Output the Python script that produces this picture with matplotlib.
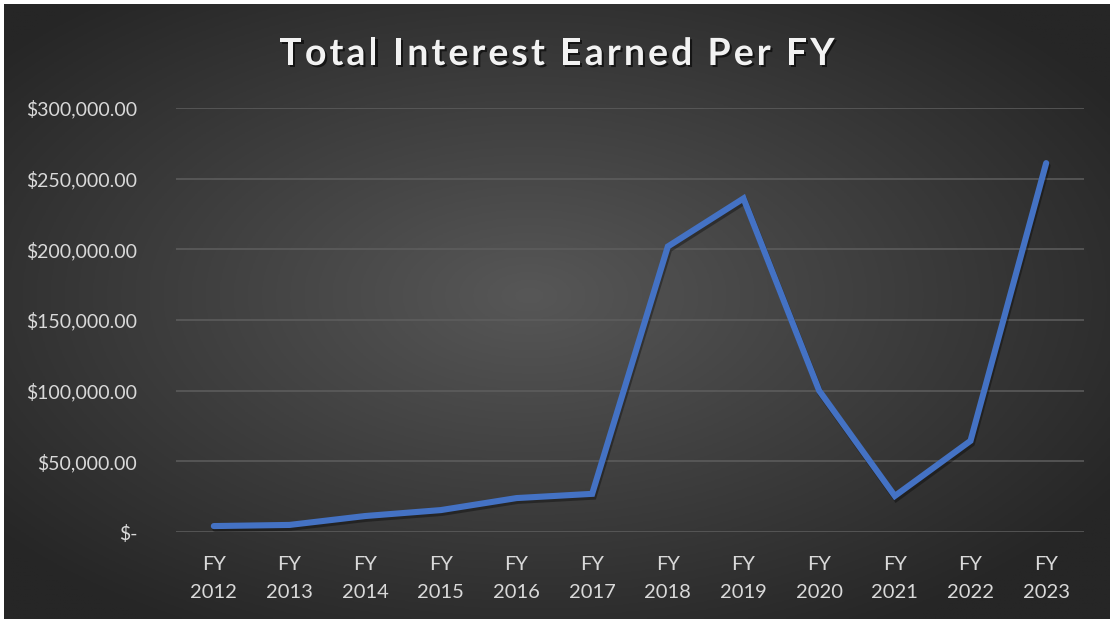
import matplotlib.pyplot as plt
import matplotlib.patheffects as pe
from matplotlib.font_manager import FontProperties
import numpy as np

# chart data
years = ['2012', '2013', '2014', '2015', '2016', '2017',
         '2018', '2019', '2020', '2021', '2022', '2023']
interest = [4200, 5000, 11300, 15500, 24000, 27000,
            202000, 236000, 100000, 25500, 64500, 261000]
y_ticks = [0, 50000, 100000, 150000, 200000, 250000, 300000]
title = 'Total Interest Earned Per FY'

W, H = 1114, 623
fig = plt.figure(figsize=(W / 100, H / 100), dpi=100)
fig.patch.set_facecolor('white')

# radial gradient background
bg = fig.add_axes([0.004, 0.006, 0.992, 0.988])
bg.set_axis_off()
gx, gy = np.meshgrid(np.linspace(-1, 1, 400), np.linspace(-1, 1, 220))
r = np.sqrt((gx + 0.05) ** 2 + (gy - 0.05) ** 2)
r = np.clip(r / 1.25, 0, 1)
shade = 0x57 / 255 * (1 - r) + 0x26 / 255 * r
img = np.dstack([shade, shade, shade])
bg.imshow(img, aspect='auto', extent=[0, 1, 0, 1], origin='lower')
bg.set_xlim(0, 1)
bg.set_ylim(0, 1)

ax = fig.add_axes([176 / W, (H - 532) / H, (1084 - 176) / W, (532 - 108) / H])
ax.patch.set_alpha(0)

x = np.arange(len(years))
ax.plot(x, interest, color='#4472C4', linewidth=4.4, solid_capstyle='round',
        solid_joinstyle='miter', zorder=3,
        path_effects=[pe.SimpleLineShadow(offset=(1, -2), shadow_color='black', alpha=0.35),
                      pe.Normal()])

ax.set_xlim(-0.5, len(years) - 0.5)
ax.set_ylim(0, 300000)
ax.set_yticks(y_ticks)
ax.set_yticklabels(['$-' if v == 0 else f'${v:,.2f}' for v in y_ticks])
ax.set_xticks(x)
ax.set_xticklabels([f'FY\n{yr}' for yr in years], linespacing=1.8)

for s in ax.spines.values():
    s.set_visible(False)
ax.grid(axis='y', color='#5e5e5e', linewidth=1.1)
ax.tick_params(length=0, colors='#D9D9D9')
ax.tick_params(axis='y', pad=28, labelsize=14)
ax.tick_params(axis='x', pad=17, labelsize=14.5)
for lbl in ax.get_xticklabels() + ax.get_yticklabels():
    lbl.set_fontfamily('Lato')

# title with letter spacing, drawn one character at a time
fp = FontProperties(family='Lato', weight='bold', size=27)
renderer = fig.canvas.get_renderer()
ref_w = renderer.get_text_width_height_descent('I', fp, ismath=False)[0]
adv = [renderer.get_text_width_height_descent(ch + 'I', fp, ismath=False)[0] - ref_w
       for ch in title]
target_w = 555
spacing = (target_w - sum(adv)) / (len(title) - 1)
xpos = 557 - target_w / 2
for ch, a in zip(title, adv):
    fig.text(xpos / W, 1 - 65 / H, ch, ha='left', va='baseline', fontproperties=fp,
             color='#F2F2F2',
             path_effects=[pe.SimplePatchShadow(offset=(1.5, -1.5), shadow_rgbFace='black', alpha=0.6),
                           pe.Normal()])
    xpos += a + spacing

fig.savefig('out.png', dpi=100)
